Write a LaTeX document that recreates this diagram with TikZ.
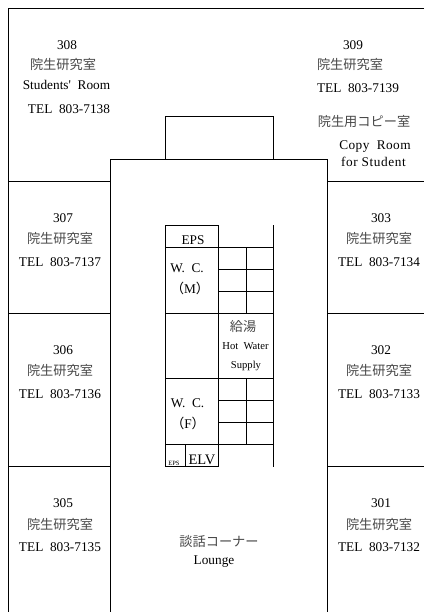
\documentclass[tikz,border=0pt]{standalone}
\usepackage{fontspec}
\setmainfont{Liberation Serif}
\newfontfamily\jpfont{Noto Sans CJK JP}
\tikzset{
  wall/.style={draw=black, line width=0.9pt},
  en/.style={inner sep=0pt, font=\fontsize{13.3}{15}\selectfont},
  small/.style={inner sep=0pt, font=\fontsize{10.6}{12}\selectfont},
  jp/.style={inner sep=0pt, text=black!72, font=\jpfont\fontsize{13.2}{15}\selectfont}
}

\begin{document}
\begin{tikzpicture}[x=1pt, y=-1pt, line cap=butt, line join=miter]

% --- Parameters (px of the plan) ---
\def\W{424}      % page width
\def\H{612}      % page height
\def\xl{110}     % corridor left
\def\xr{327.5}   % corridor right
\def\xa{165.5}   % core left
\def\xb{218.5}   % core middle
\def\xc{246.5}   % cell divider
\def\xd{273.5}   % core right

\useasboundingbox (0,0) rectangle (\W,\H);

% --- Outer walls ---
\draw[wall] (\W,8.5) -- (8.5,8.5) -- (8.5,\H);

% --- Corridor and top box ---
\draw[wall] (\xl,\H) -- (\xl,159.5) -- (\xr,159.5) -- (\xr,\H);
\draw[wall] (\xa,159.5) -- (\xa,116.5) -- (\xd,116.5) -- (\xd,159.5);

% --- Room dividers ---
\foreach \y in {181.5,313.5,466.5} {
  \draw[wall] (8.5,\y) -- (\xl,\y);
  \draw[wall] (\xr,\y) -- (\W,\y);
}

% --- Core ---
\draw[wall] (\xa,466.5) -- (\xa,225.5) -- (\xb,225.5) -- (\xb,466.5);
\draw[wall] (\xa,466.5) -- (\xb,466.5);
\draw[wall] (\xd,225) -- (\xd,467);
\draw[wall] (185.5,444.5) -- (185.5,466.5);
\foreach \y in {247.5,313.5,378.5,444.5}
  \draw[wall] (\xa,\y) -- (\xd,\y);
\foreach \y in {269.5,291.5,400.5,422.5}
  \draw[wall] (\xb,\y) -- (\xd,\y);
\draw[wall] (\xc,247.5) -- (\xc,313.5);
\draw[wall] (\xc,378.5) -- (\xc,444.5);

% --- Rooms with number, name and telephone ---
\foreach \room/\xn/\xj/\xt/\yn/\yj/\yt/\tel in {
    307/63/60/60/218.5/239/262/7137,
    306/63/60/60/350.5/371/394/7136,
    305/63/60/60/503.5/524/547/7135,
    303/381/379/379/218.5/239/262/7134,
    302/381/379/379/350.5/371/394/7133,
    301/381/379/379/503.5/524/547/7132,
    309/353/350/358/45.5/65/88/7139} {
  \node[en] (num\room) at (\xn,\yn) {\room};
  \node[jp] (jp\room) at (\xj,\yj) {院生研究室};
  \node[en] (tel\room) at (\xt,\yt) {TEL\ \ 803-\tel};
}

% --- Room 308 ---
\node[en] (num308) at (67,45.5) {308};
\node[jp] (jp308) at (63,65) {院生研究室};
\node[en] (en308) at (66.5,85) {Students\textquotesingle\ \ Room};
\node[en] (tel308) at (69,109) {TEL\ \ 803-7138};

% --- Copy room ---
\node[jp] (jpcopy) at (364,122) {院生用コピー室};
\node[en] (encopy) at (375,146.5) {\addfontfeature{LetterSpace=3}Copy\ \ Room};
\node[en] (forcopy) at (373.5,162) {\addfontfeature{LetterSpace=4.5}for Student};

% --- Core labels ---
\node[en] (epsup) at (193,240.5) {EPS};
\node[en] (wcm) at (187,268) {W.\ \ C.};
\node[en] (wcmsub) at (190,288) {{\jpfont（}M{\jpfont）}};
\node[jp] (jpwater) at (243,326) {給湯};
\node[small] (hotwater) at (245.5,346) {Hot\ \ Water};
\node[small] (supply) at (246,366) {Supply};
\node[en] (wcf) at (187.5,403) {W.\ \ C.};
\node[en] (wcfsub) at (188,423) {{\jpfont（}F{\jpfont）}};
\node[en, font=\fontsize{6.5}{8}\selectfont] (epslow) at (174,463) {EPS};
\node[en, font=\fontsize{14.5}{16}\selectfont] (elv) at (202,459.5) {ELV};

% --- Lounge ---
\node[jp] (jplounge) at (219,541) {談話コーナー};
\node[en] (enlounge) at (214,561.5) {Lounge};

\end{tikzpicture}
\end{document}
